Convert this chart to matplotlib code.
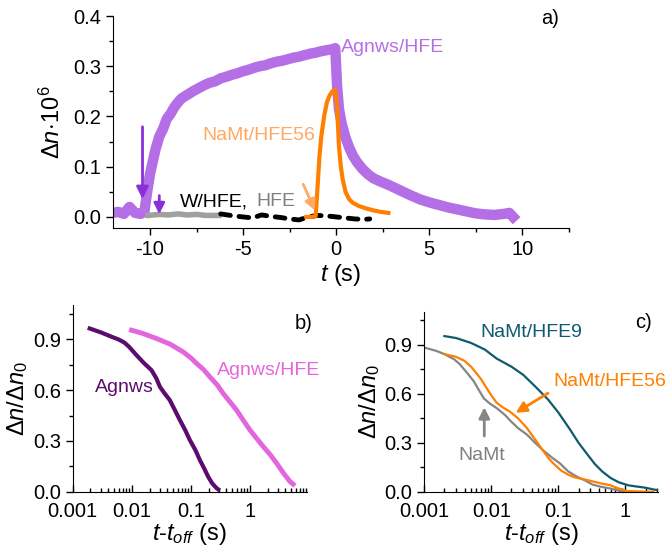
import matplotlib
matplotlib.use("Agg")
import matplotlib.pyplot as plt
from matplotlib.ticker import MultipleLocator, FixedLocator, FixedFormatter, LogLocator, NullFormatter

plt.rcParams['font.family'] = ['Liberation Sans', 'DejaVu Sans']
plt.rcParams['mathtext.fontset'] = 'custom'
plt.rcParams['mathtext.rm'] = 'Liberation Sans'
plt.rcParams['mathtext.it'] = 'Liberation Sans:italic'
plt.rcParams['mathtext.bf'] = 'Liberation Sans:bold'
plt.rcParams['axes.unicode_minus'] = False

# ---- panel a data ----
agnws_hfe_t = [-12.0, -11.7, -11.4, -11.1, -10.8, -10.5, -10.3, -10.15, -10.0, -9.85, -9.7, -9.5,
               -9.3, -9.1, -8.9, -8.7, -8.5, -8.3, -8.0, -7.7, -7.4, -7.1, -6.8, -6.5, -6.2, -5.9,
               -5.6, -5.3, -5.0, -4.7, -4.4, -4.1, -3.8, -3.5, -3.2, -2.9, -2.6, -2.3, -2.0, -1.7,
               -1.4, -1.1, -0.8, -0.5, -0.2, -0.05, 0.05, 0.15, 0.3, 0.5, 0.7, 0.9, 1.1, 1.4, 1.7,
               2.0, 2.4, 2.8, 3.2, 3.6, 4.0, 4.5, 5.0, 5.5, 6.0, 6.5, 7.0, 7.5, 8.0, 8.5, 9.0, 9.3, 9.5]
agnws_hfe_v = [0.008, 0.010, 0.006, 0.020, 0.008, 0.006, 0.010, 0.050, 0.085, 0.110, 0.135, 0.160,
               0.175, 0.195, 0.205, 0.218, 0.228, 0.236, 0.243, 0.250, 0.256, 0.262, 0.267, 0.270,
               0.276, 0.279, 0.283, 0.286, 0.290, 0.293, 0.297, 0.300, 0.302, 0.306, 0.309, 0.311,
               0.314, 0.317, 0.319, 0.322, 0.325, 0.327, 0.330, 0.332, 0.334, 0.336, 0.260, 0.215,
               0.185, 0.158, 0.138, 0.122, 0.110, 0.096, 0.085, 0.077, 0.070, 0.064, 0.057, 0.050,
               0.043, 0.035, 0.029, 0.024, 0.019, 0.015, 0.011, 0.007, 0.005, 0.004, 0.006, 0.008, 0.0]

namt56_t = [-1.6, -1.3, -1.1, -1.0, -0.9, -0.8, -0.65, -0.5, -0.35, -0.2, -0.05, 0.05, 0.15, 0.25,
            0.35, 0.5, 0.7, 0.9, 1.2, 1.6, 2.0, 2.4, 2.8]
namt56_v = [0.0, 0.0, 0.002, 0.06, 0.12, 0.16, 0.20, 0.228, 0.242, 0.250, 0.253, 0.22, 0.14, 0.10,
            0.075, 0.050, 0.035, 0.028, 0.022, 0.017, 0.013, 0.010, 0.008]

hfe_t = [-10.1, -9.5, -9.0, -8.5, -8.0, -7.5, -7.0, -6.3]
hfe_v = [0.003, 0.005, 0.004, 0.006, 0.004, 0.005, 0.003, 0.003]

whfe_t = [-6.2, -5.5, -5.0, -4.5, -4.0, -3.5, -3.0, -2.5, -2.0, -1.5, -1.0, -0.5, 0.0, 0.5, 1.0, 1.5, 1.8]
whfe_v = [0.006, 0.002, 0.0, -0.002, 0.004, 0.001, -0.001, -0.004, -0.006, 0.0, 0.003, 0.002, 0.0,
          -0.002, -0.004, -0.005, -0.004]

# ---- panel b data ----
agnws_t = [0.00194, 0.003, 0.0045, 0.006, 0.0075, 0.009, 0.012, 0.016, 0.0216, 0.026, 0.03, 0.036,
           0.044, 0.054, 0.065, 0.08, 0.096, 0.12, 0.142, 0.17, 0.196, 0.23, 0.272, 0.29]
agnws_v = [0.963, 0.940, 0.915, 0.898, 0.880, 0.855, 0.806, 0.760, 0.717, 0.670, 0.619, 0.580,
           0.541, 0.480, 0.424, 0.365, 0.306, 0.245, 0.188, 0.135, 0.090, 0.050, 0.022, 0.015]

agnws_hfe_b_t = [0.0099, 0.015, 0.0262, 0.045, 0.074, 0.1, 0.125, 0.165, 0.21, 0.28, 0.353, 0.46,
                 0.594, 0.78, 1.0, 1.3, 1.68, 2.2, 2.83, 3.7, 4.76, 5.4]
agnws_hfe_b_v = [0.953, 0.935, 0.904, 0.870, 0.825, 0.790, 0.757, 0.720, 0.678, 0.630, 0.580, 0.530,
                 0.482, 0.420, 0.365, 0.315, 0.267, 0.220, 0.169, 0.110, 0.061, 0.045]

# ---- panel c data ----
hfe9_t = [0.002, 0.003, 0.005, 0.008, 0.012, 0.02, 0.03, 0.045, 0.07, 0.1, 0.15, 0.2, 0.27, 0.35,
          0.45, 0.6, 0.8, 1.1, 1.5, 2.0, 2.6, 3.0]
hfe9_v = [0.952, 0.940, 0.910, 0.870, 0.815, 0.765, 0.715, 0.645, 0.565, 0.485, 0.380, 0.300,
          0.230, 0.170, 0.125, 0.085, 0.058, 0.040, 0.032, 0.025, 0.015, 0.010]

hfe56_t = [0.002, 0.003, 0.004, 0.005, 0.006, 0.007, 0.0085, 0.01, 0.012, 0.015, 0.019, 0.025,
           0.034, 0.045, 0.055, 0.07, 0.085, 0.11, 0.14, 0.17, 0.25, 0.34, 0.45, 0.6, 0.8, 1.06,
           1.5, 2.6]
hfe56_v = [0.842, 0.825, 0.800, 0.765, 0.725, 0.690, 0.635, 0.590, 0.545, 0.515, 0.490, 0.450,
           0.390, 0.320, 0.270, 0.210, 0.172, 0.130, 0.105, 0.090, 0.075, 0.062, 0.050, 0.040,
           0.020, 0.005, 0.003, 0.0]

namt_t = [0.001, 0.0015, 0.002, 0.0028, 0.0034, 0.0045, 0.0055, 0.0068, 0.0078, 0.0095, 0.0122,
          0.016, 0.0192, 0.025, 0.034, 0.045, 0.06, 0.08, 0.107, 0.14, 0.19, 0.25, 0.32, 0.42,
          0.6, 0.84, 1.0]
namt_v = [0.882, 0.862, 0.842, 0.810, 0.780, 0.720, 0.675, 0.610, 0.570, 0.540, 0.510, 0.470,
          0.435, 0.390, 0.350, 0.300, 0.252, 0.210, 0.172, 0.125, 0.092, 0.070, 0.045, 0.032,
          0.020, 0.005, 0.0]

log_ticks = [0.001, 0.01, 0.1, 1]
log_labels = ['0.001', '0.01', '0.1', '1']

fig = plt.figure(figsize=(6.67, 5.52), dpi=100)

# ---------------- panel a ----------------
ax = fig.add_axes([0.169, 0.587, 0.684, 0.384])
ax.plot(agnws_hfe_t, agnws_hfe_v, color='#B56FE6', lw=7.5, solid_joinstyle='round')
ax.plot(hfe_t, hfe_v, color='#A0A0A0', lw=4)
ax.plot(whfe_t, whfe_v, color='black', lw=3.5, dashes=(2.0, 1.8), dash_capstyle='round')
ax.plot(namt56_t, namt56_v, color='#FF7F00', lw=3)

ax.annotate('', xy=(-10.4, 0.03), xytext=(-10.4, 0.185),
            arrowprops=dict(arrowstyle='-|>', color='#8A30D8', lw=2, mutation_scale=18))
ax.annotate('', xy=(-9.5, 0.0), xytext=(-9.5, 0.048),
            arrowprops=dict(arrowstyle='-|>', color='#8A30D8', lw=2, mutation_scale=16))
ax.annotate('', xy=(-1.08, 0.008), xytext=(-1.83, 0.07),
            arrowprops=dict(arrowstyle='-|>', color='#FFAA66', lw=2, mutation_scale=16))

ax.text(0.27, 0.338, 'Agnws/HFE', color='#B56FE6', fontsize=14, ha='left', va='center')
ax.text(-7.2, 0.163, 'NaMt/HFE56', color='#FFA860', fontsize=14, ha='left', va='center')
ax.text(-8.39, 0.03, 'W/HFE,', color='black', fontsize=14, ha='left', va='center')
ax.text(-4.3, 0.03, 'HFE', color='#808080', fontsize=14, ha='left', va='center')
ax.text(11.5, 0.396, 'a)', color='black', fontsize=14.5, ha='center', va='center')

ax.set_xlim(-12, 12.5)
ax.set_ylim(-0.022, 0.4)
ax.xaxis.set_major_locator(MultipleLocator(5))
ax.xaxis.set_minor_locator(MultipleLocator(2.5))
ax.yaxis.set_major_locator(MultipleLocator(0.1))
ax.yaxis.set_minor_locator(MultipleLocator(0.05))
ax.yaxis.set_major_formatter(plt.FuncFormatter(lambda v, p: f'{v:.1f}'))
ax.set_xlabel(r'$t$ (s)', fontsize=17, labelpad=2)
ax.set_ylabel(r'$\Delta n\!\cdot\!10^{6}$', fontsize=17, labelpad=6)

# ---------------- panel b ----------------
bx = fig.add_axes([0.109, 0.109, 0.351, 0.338])
bx.plot(agnws_t, agnws_v, color='#5C0B6E', lw=3)
bx.plot(agnws_hfe_b_t, agnws_hfe_b_v, color='#E466DE', lw=3.5)
bx.text(0.00236, 0.618, 'Agnws', color='#5C0B6E', fontsize=14, ha='left', va='center')
bx.text(0.276, 0.718, 'Agnws/HFE', color='#E466DE', fontsize=14, ha='left', va='center')
bx.text(1.026, 0.904, 'b)', color='black', fontsize=14.5, ha='right', va='center',
        transform=bx.transAxes)
bx.set_xlim(0.001, 9.2)

# ---------------- panel c ----------------
cx = fig.add_axes([0.636, 0.109, 0.351, 0.326])
cx.plot(namt_t, namt_v, color='#858585', lw=1.6)
cx.plot(hfe56_t, hfe56_v, color='#FF7F00', lw=1.6)
cx.plot(hfe9_t, hfe9_v, color='#0F5A6E', lw=1.6)
cx.annotate('', xy=(0.0213, 0.474), xytext=(0.076, 0.612),
            arrowprops=dict(arrowstyle='-|>', color='#FF7F00', lw=2, mutation_scale=16))
cx.annotate('', xy=(0.00787, 0.534), xytext=(0.00787, 0.324),
            arrowprops=dict(arrowstyle='-|>', color='#858585', lw=2, mutation_scale=16))
cx.text(0.00686, 0.972, 'NaMt/HFE9', color='#0F5A6E', fontsize=14, ha='left', va='center')
cx.text(0.0841, 0.672, 'NaMt/HFE56', color='#FF7F00', fontsize=14, ha='left', va='center')
cx.text(0.00324, 0.222, 'NaMt', color='#808080', fontsize=14, ha='left', va='center')
cx.text(0.974, 0.939, 'c)', color='black', fontsize=14.5, ha='right', va='center',
        transform=cx.transAxes)
cx.set_xlim(0.001, 3.1)

for a in (bx, cx):
    a.set_xscale('log')
    a.set_ylim(0, 1.1)
    a.xaxis.set_major_locator(FixedLocator(log_ticks))
    a.xaxis.set_major_formatter(FixedFormatter(log_labels))
    a.xaxis.set_minor_locator(LogLocator(base=10, subs=range(2, 10)))
    a.xaxis.set_minor_formatter(NullFormatter())
    a.yaxis.set_major_locator(MultipleLocator(0.3))
    a.yaxis.set_minor_locator(MultipleLocator(0.15))
    a.yaxis.set_major_formatter(plt.FuncFormatter(lambda v, p: f'{v:.1f}'))
    a.tick_params(axis='x', which='both', direction='in')
    a.tick_params(axis='x', which='major', pad=7)
    a.set_xlabel(r'$t$-$t_{off}$ (s)', fontsize=17, labelpad=0)
    a.set_ylabel(r'$\Delta n/\Delta n_0$', fontsize=17, labelpad=2)

for a in (ax, bx, cx):
    a.spines['top'].set_visible(False)
    a.spines['right'].set_visible(False)
    a.tick_params(which='major', labelsize=14.5, length=5, width=1)
    a.tick_params(which='minor', length=3, width=1)

fig.savefig('out.png', dpi=100)
